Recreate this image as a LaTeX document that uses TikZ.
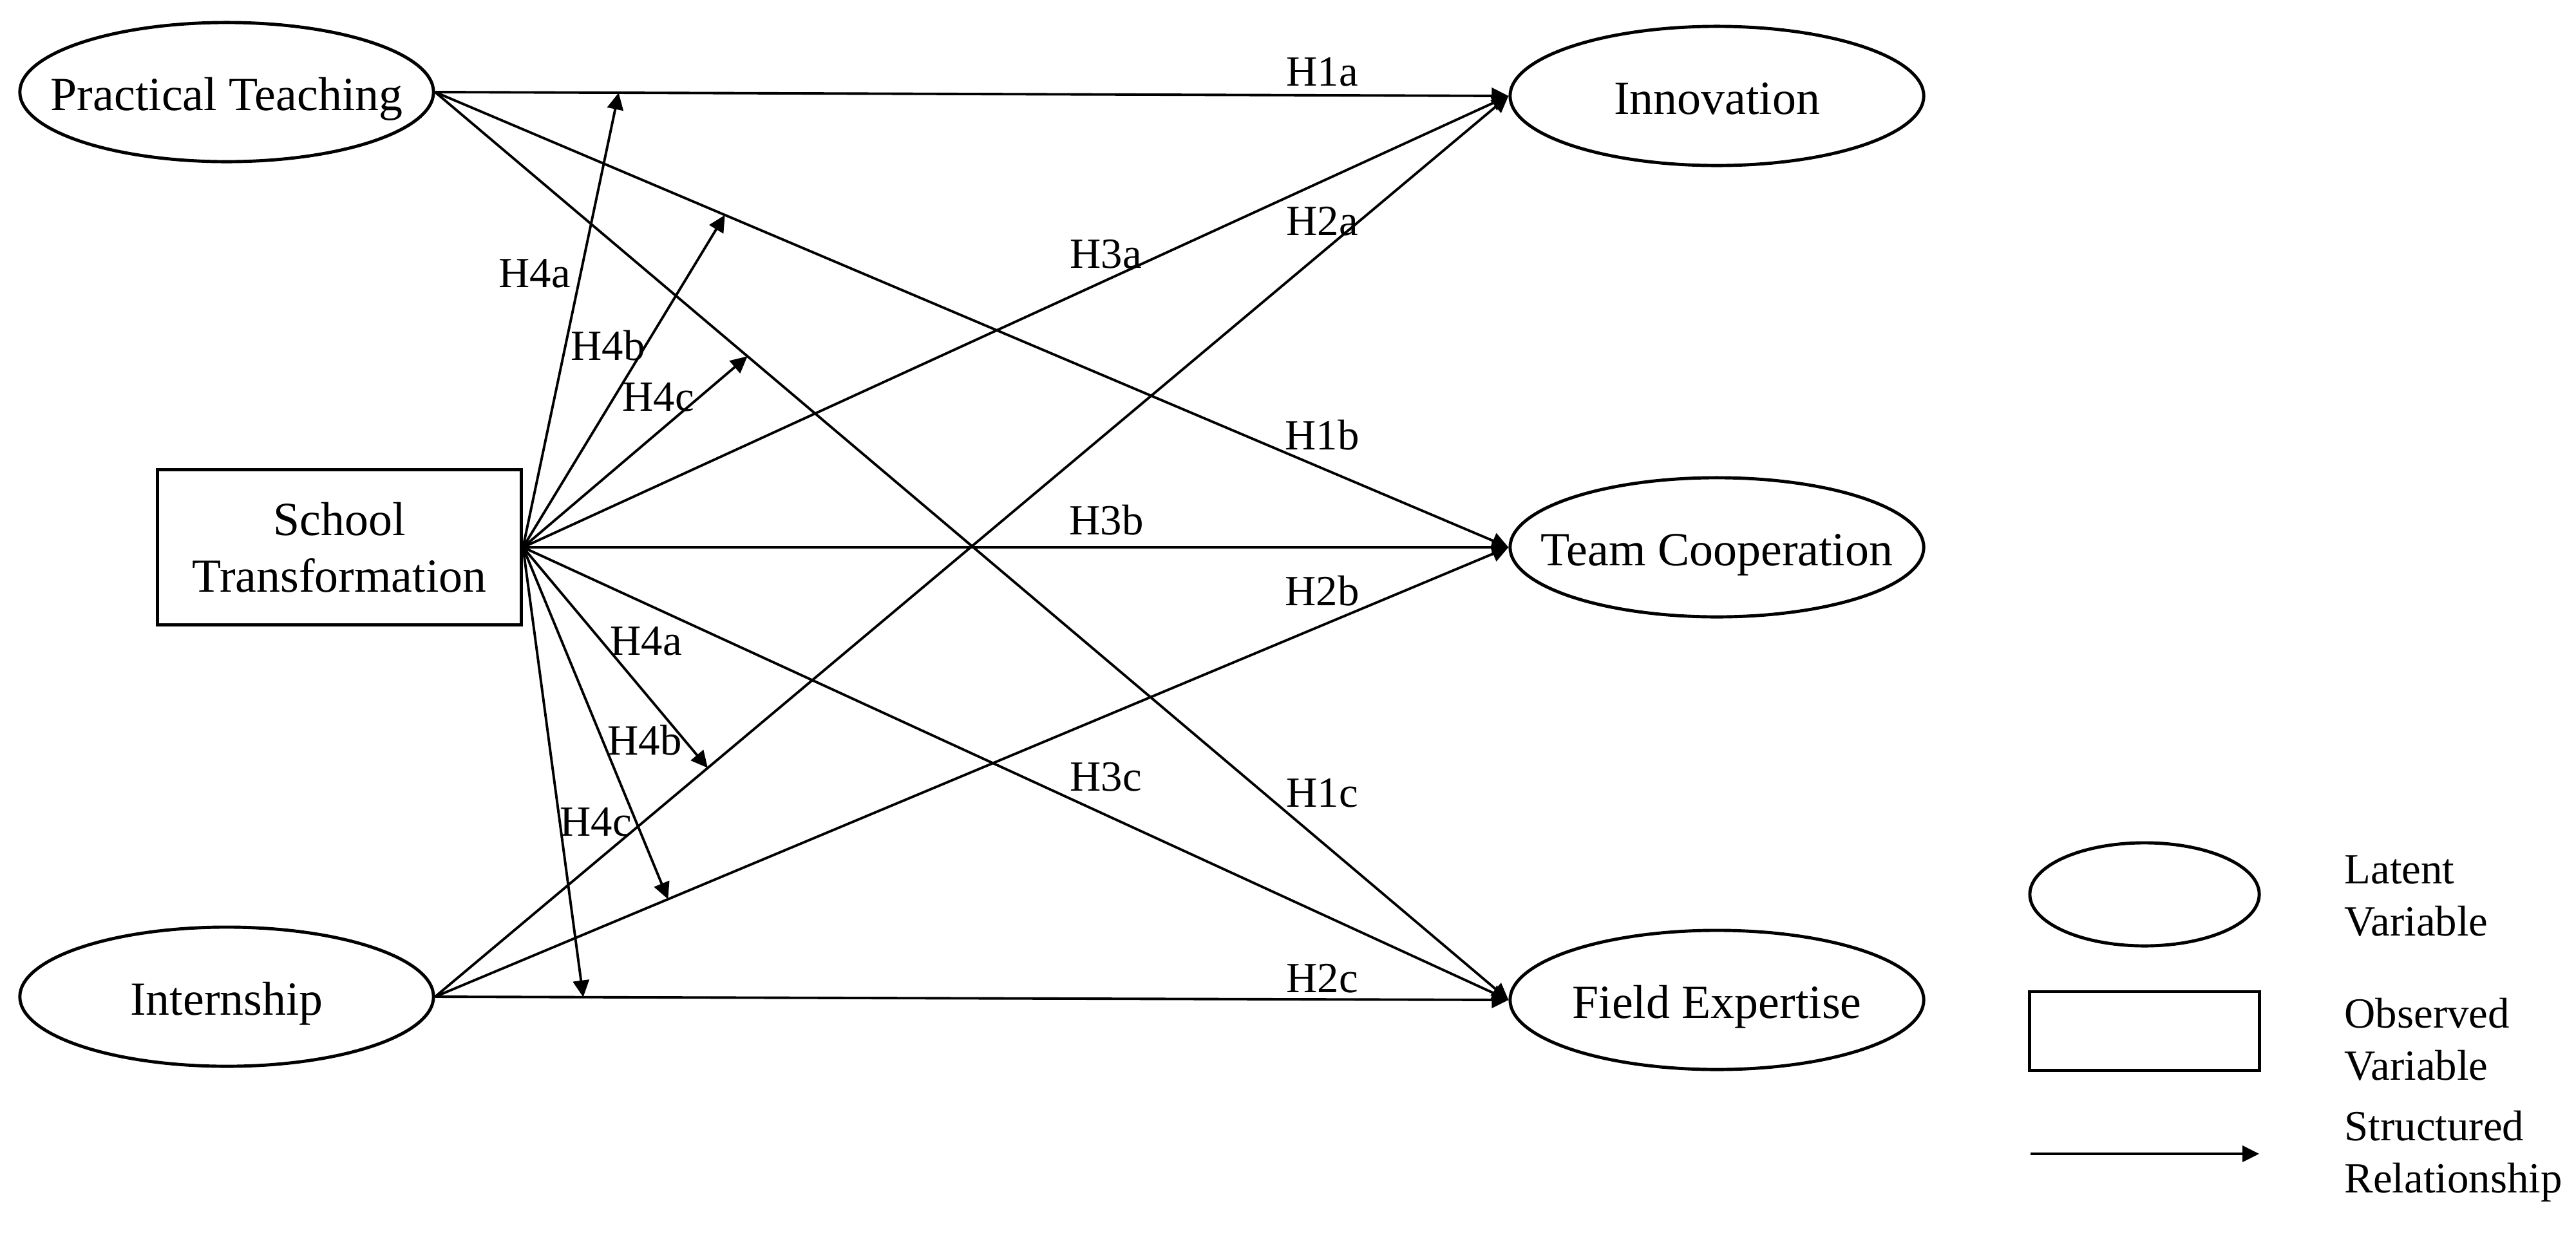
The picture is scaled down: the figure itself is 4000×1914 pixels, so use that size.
\documentclass[tikz,border=0pt]{standalone}
\usepackage{fontspec}
\setmainfont{Liberation Serif}
\usepackage{tikz}
\usetikzlibrary{arrows.meta, shapes.geometric}

\begin{document}
\begin{tikzpicture}[x=0.01cm, y=-0.01cm, >={Triangle[length=2.6mm, width=2.5mm]},
    latent/.style={draw, ellipse, line width=1.4pt, inner sep=0pt, minimum width=6.42cm, minimum height=2.16cm, text height=16pt, text depth=0pt, font=\fontsize{21}{25}\selectfont},
    observed/.style={draw, rectangle, line width=1.4pt, minimum width=5.65cm, minimum height=2.4cm, align=center, font=\fontsize{21}{25}\selectfont},
    rel/.style={->, line width=1.1pt},
    hyp/.style={inner sep=0pt, font=\fontsize{19}{23}\selectfont},
    legtext/.style={anchor=west, align=left, inner sep=0pt, font=\fontsize{19}{23}\selectfont}]
        \useasboundingbox (0,0) rectangle (4000,1914);
        % Variables
        \node [latent] (pt) at (352,143) {\makebox[0pt]{Practical Teaching}};
        \node [latent] (intern) at (352,1548) {\makebox[0pt]{Internship}};
        \node [observed] (st) at (527,850) {School\\Transformation};
        \node [latent] (inno) at (2666,149) {\makebox[0pt]{Innovation}};
        \node [latent] (team) at (2666,850) {\makebox[0pt]{Team Cooperation}};
        \node [latent] (field) at (2666,1553) {\makebox[0pt]{Field Expertise}};
        % Direct paths
        \foreach \src/\dst in {pt/inno, pt/team, pt/field, intern/inno, intern/team, intern/field, st/inno, st/team, st/field}
            \draw [rel] (\src.east) -- (\dst.west);
        % Points hit by the moderation arrows
        \path (pt.east) -- (inno.west) coordinate[pos=0.171] (m1a);
        \path (pt.east) -- (team.west) coordinate[pos=0.27] (m1b);
        \path (pt.east) -- (field.west) coordinate[pos=0.291] (m1c);
        \path (intern.east) -- (inno.west) coordinate[pos=0.254] (m2a);
        \path (intern.east) -- (team.west) coordinate[pos=0.217] (m2b);
        \path (intern.east) -- (field.west) coordinate[pos=0.138] (m2c);
        % Moderation
        \foreach \m in {m1a, m1b, m1c, m2a, m2b, m2c}
            \draw [rel] (st.east) -- (\m);
        % Hypothesis labels
        \node [hyp] (l1a) at (2053,112) {H1a};
        \node [hyp] (l2a) at (2053,344) {H2a};
        \node [hyp] (l3a) at (1717,395) {H3a};
        \node [hyp] (l1b) at (2053,676) {H1b};
        \node [hyp] (l3b) at (1718,808) {H3b};
        \node [hyp] (l2b) at (2053,918) {H2b};
        \node [hyp] (l3c) at (1717,1207) {H3c};
        \node [hyp] (l1c) at (2053,1232) {H1c};
        \node [hyp] (l2c) at (2053,1520) {H2c};
        \node [hyp] (l4a) at (830,425) {H4a};
        \node [hyp] (l4b) at (944,537) {H4b};
        \node [hyp] (l4c) at (1022,617) {H4c};
        \node [hyp] (l4a2) at (1003,996) {H4a};
        \node [hyp] (l4b2) at (1001,1150) {H4b};
        \node [hyp] (l4c2) at (925,1277) {H4c};
        % Legend
        \node [draw, ellipse, line width=1.4pt, minimum width=3.56cm, minimum height=1.6cm] (keylat) at (3330,1389) {};
        \node [draw, rectangle, line width=1.4pt, minimum width=3.57cm, minimum height=1.22cm] (keyobs) at (3330,1601) {};
        \coordinate (keyA) at (3153,1792);
        \coordinate (keyB) at (3508,1792);
        \draw [rel] (keyA) -- (keyB);
        \node [legtext] (tlat) at (3640,1392) {Latent\\Variable};
        \node [legtext] (tobs) at (3640,1614) {Observed\\Variable};
        \node [legtext] (trel) at (3640,1796) {Structured\\Relationship};
    \end{tikzpicture}
\end{document}
